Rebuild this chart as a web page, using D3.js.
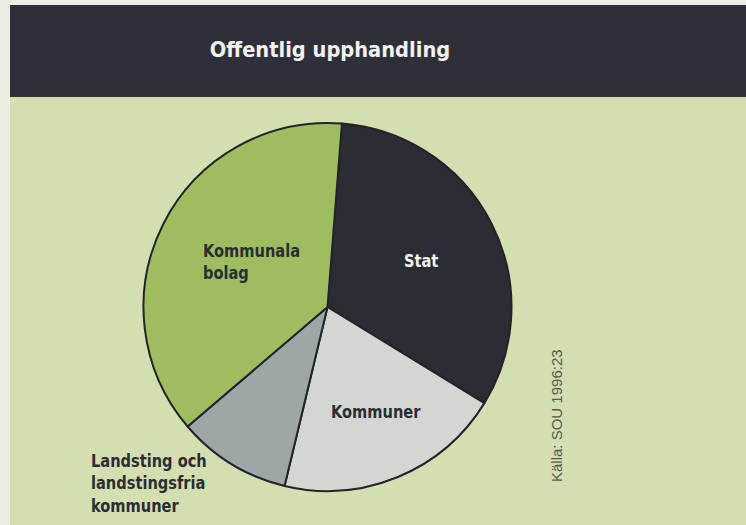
<!DOCTYPE html>
<html>
<head>
<meta charset="utf-8">
<script src="https://cdn.jsdelivr.net/npm/d3@7"></script>
<style>
  html, body { margin: 0; padding: 0; background: #eceee4; }
  svg { display: block; }
</style>
</head>
<body>
<svg id="chart" width="746" height="525"></svg>
<script>
// Offentlig upphandling – andelar per upphandlande sektor (procent)
const categories = ["Stat", "Kommuner", "Landsting och landstingsfria kommuner", "Kommunala bolag"];
const values = [32.5, 20, 10, 37.5];
const labelLines = [["Stat"], ["Kommuner"], ["Landsting och", "landstingsfria", "kommuner"], ["Kommunala", "bolag"]];
const fills = ["#2c2c34", "#d3d6d3", "#9ea6a6", "#9dbd60"];
const labelColors = ["#f4f4f0", "#2a2d33", "#2a2d33", "#2a2d33"];
const title = "Offentlig upphandling";
const source = "Källa: SOU 1996:23";

const W = 746, H = 525;
const condensed = 0.86; // horizontal squeeze for a condensed bold face
const boldFont = "'Liberation Sans Narrow', 'DejaVu Sans', sans-serif";
const svg = d3.select("#chart");

// page panel and header band
svg.append("rect").attr("x", 10).attr("y", 5).attr("width", W - 10).attr("height", H - 5).attr("fill", "#d4dfb1");
svg.append("rect").attr("x", 10).attr("y", 5).attr("width", W - 10).attr("height", 92).attr("fill", "#2f2f39");
svg.append("g")
  .attr("transform", `translate(330,57) scale(0.885,1)`)
  .append("text")
  .attr("text-anchor", "middle")
  .attr("fill", "#f2f2ee")
  .style("font-family", boldFont)
  .style("font-weight", "bold")
  .style("font-size", "22px")
  .text(title);

// pie
const cx = 327.5, cy = 307, R = 184;
const startDeg = 4.5;
const pie = d3.pie().sort(null).value(d => d)
  .startAngle(startDeg * Math.PI / 180)
  .endAngle((startDeg + 360) * Math.PI / 180);
const arc = d3.arc().innerRadius(0).outerRadius(R);
const arcs = pie(values);

const g = svg.append("g").attr("transform", `translate(${cx},${cy})`);
g.selectAll("path.slice")
  .data(arcs)
  .join("path")
  .attr("class", "slice")
  .attr("d", arc)
  .attr("fill", (d, i) => fills[i])
  .attr("stroke", "#23242a")
  .attr("stroke-width", 2)
  .attr("stroke-linejoin", "round");

// slice labels (left edge of first baseline, relative to pie centre)
const labelOffsets = [
  [404 - cx, 267 - cy],
  [331 - cx, 418 - cy],
  [91 - cx, 467 - cy],
  [203 - cx, 257 - cy]
];
const labels = svg.append("g").attr("transform", `translate(${cx},${cy})`);
arcs.forEach((a, i) => {
  const t = labels.append("g")
    .attr("transform", `translate(${labelOffsets[i][0]},${labelOffsets[i][1]}) scale(${condensed},1)`)
    .append("text")
    .attr("fill", labelColors[i])
    .style("font-family", boldFont)
    .style("font-weight", "bold")
    .style("font-size", "17px");
  labelLines[i].forEach((line, k) => {
    t.append("tspan")
      .attr("x", 0)
      .attr("dy", k === 0 ? 0 : 22.5)
      .text(line);
  });
});

// source note, rotated
svg.append("text")
  .attr("transform", "translate(562,482) rotate(-90)")
  .attr("fill", "#55594e")
  .style("font-family", "'Liberation Sans', Arial, sans-serif")
  .style("font-size", "15px")
  .text(source);
</script>
</body>
</html>
